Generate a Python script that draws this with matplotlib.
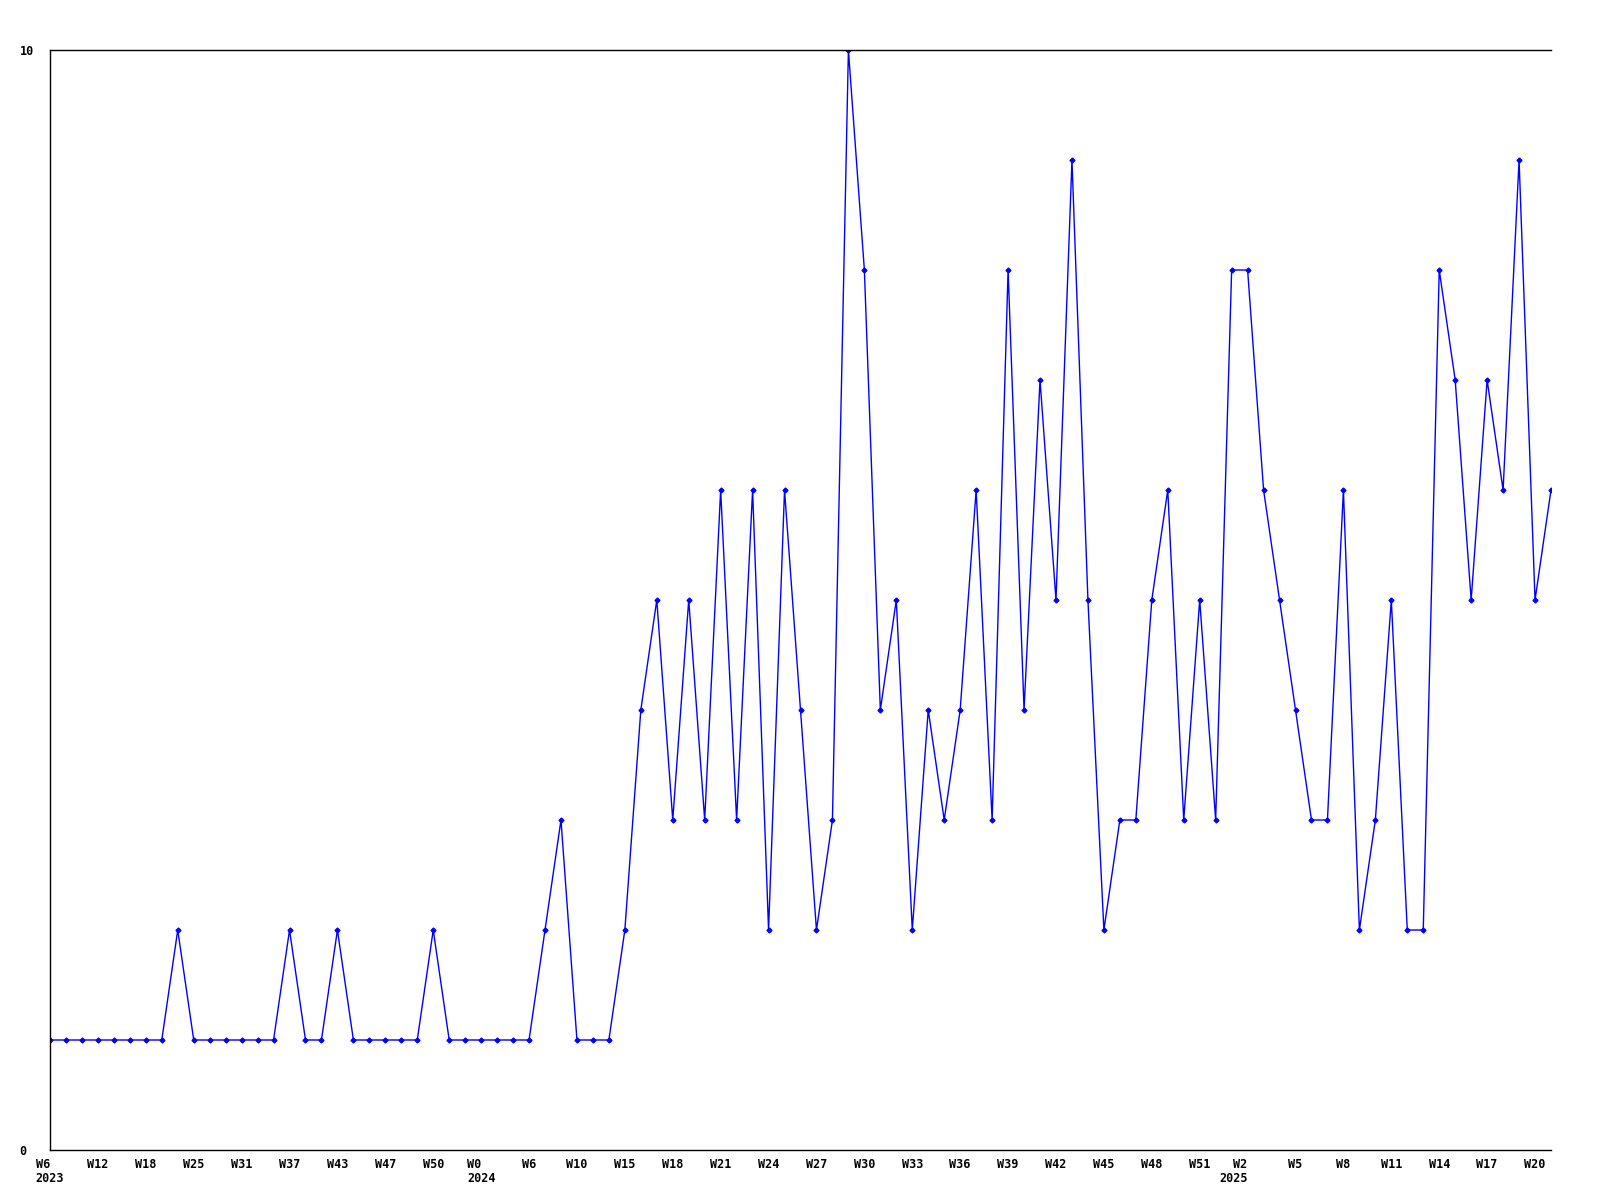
import numpy as np
import matplotlib
matplotlib.use("Agg")
import matplotlib.pyplot as plt

values = [1, 1, 1, 1, 1, 1, 1, 1, 2, 1,
          1, 1, 1, 1, 1, 2, 1, 1, 2, 1,
          1, 1, 1, 1, 2, 1, 1, 1, 1, 1,
          1, 2, 3, 1, 1, 1, 2, 4, 5, 3,
          5, 3, 6, 3, 6, 2, 6, 4, 2, 3,
          10, 8, 4, 5, 2, 4, 3, 4, 6, 3,
          8, 4, 7, 5, 9, 5, 2, 3, 3, 5,
          6, 3, 5, 3, 8, 8, 6, 5, 4, 3,
          3, 6, 2, 3, 5, 2, 2, 8, 7, 5,
          7, 6, 9, 5, 6]

tick_labels = ["W6\n2023", "W12", "W18", "W25", "W31", "W37", "W43", "W47",
               "W50", "W0\n2024", "W6", "W10", "W15", "W18", "W21", "W24",
               "W27", "W30", "W33", "W36", "W39", "W42", "W45", "W48", "W51",
               "W2\n2025", "W5", "W8", "W11", "W14", "W17", "W20"]
tick_step = 3

x = np.arange(len(values))

fig = plt.figure(figsize=(16, 12), dpi=100)
ax = fig.add_axes([50 / 1600, 50 / 1200, 1501 / 1600, 1100 / 1200])

ax.plot(x, values, color="#0000ff", linewidth=1, marker="D", markersize=2.5)

ax.set_xlim(0, len(values) - 1)
ax.set_ylim(0, 10)

font = dict(family="DejaVu Sans Mono", fontweight="bold", fontsize=8.5)
ax.set_xticks(x[::tick_step])
ax.set_xticklabels(tick_labels, **font, ha="center", linespacing=1.1)
for lab in ax.get_xticklabels():
    lab.set_multialignment("left")
    # the 2025 label sits left of its tick in the original
    if lab.get_text().endswith("2025"):
        lab.set_ha("right")
        lab.set_multialignment("right")
        lab.set_x(lab.get_position()[0])
ax.set_yticks([0, 10])
ax.set_yticklabels(["0", "10"], **font, ha="left")
ax.tick_params(length=0)
ax.tick_params(axis="x", pad=6)
ax.tick_params(axis="y", pad=22)

ax.spines["right"].set_visible(False)
for s in ["left", "top", "bottom"]:
    ax.spines[s].set_linewidth(1)
    ax.spines[s].set_color("black")

fig.savefig("out.png", dpi=100)
